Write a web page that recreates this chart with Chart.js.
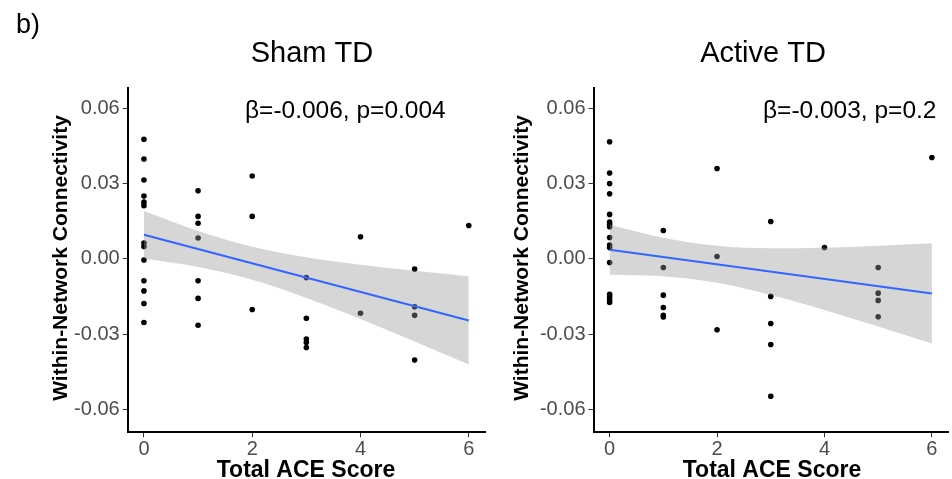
<!DOCTYPE html>
<html>
<head>
<meta charset="utf-8">
<script src="https://cdn.jsdelivr.net/npm/chart.js@4/dist/chart.umd.min.js"></script>
<style>
  body { margin: 0; background: #fff; width: 952px; height: 479px; overflow: hidden; position: relative; }
  canvas { position: absolute; top: 0; }
</style>
</head>
<body>
<canvas id="shamChart" width="490" height="479" style="left:0"></canvas>
<canvas id="activeChart" width="462" height="479" style="left:490px"></canvas>
<script>
// tick labels
const xTicks = [0, 2, 4, 6];
const yTicks = [-0.06, -0.03, 0, 0.03, 0.06];

// Sham TD: ACE score and connectivity per subject
const shamX = [0, 0, 0, 0, 0, 0, 0, 0, 0, 0, 0, 0, 0,
  1, 1, 1, 1, 1, 1, 1,
  2, 2, 2,
  3, 3, 3, 3, 3,
  4, 4,
  5, 5, 5, 5,
  6];
const shamY = [0.0477, 0.0398, 0.0314, 0.025, 0.0226, 0.0212, 0.0063, 0.0049, -0.0005, -0.0088, -0.0128, -0.0178, -0.0254,
  0.0271, 0.0169, 0.0142, 0.0083, -0.0088, -0.0158, -0.0265,
  0.033, 0.0169, -0.0202,
  -0.0075, -0.0237, -0.032, -0.0334, -0.0354,
  0.0088, -0.0217,
  -0.0041, -0.0191, -0.0225, -0.0404,
  0.0133];

// Active TD
const activeX = [0, 0, 0, 0, 0, 0, 0, 0, 0, 0, 0, 0, 0, 0, 0, 0,
  1, 1, 1, 1, 1, 1,
  2, 2, 2,
  3, 3, 3, 3, 3,
  4,
  5, 5, 5, 5,
  6];
const activeY = [0.0467, 0.0342, 0.03, 0.0259, 0.0177, 0.0147, 0.0138, 0.0128, 0.0085, 0.0055, 0.0045, -0.0015, -0.0142, -0.0152, -0.0164, -0.0174,
  0.0113, -0.0035, -0.0145, -0.0194, -0.0225, -0.0232,
  0.036, 0.0009, -0.0283,
  0.0149, -0.015, -0.0258, -0.0342, -0.0548,
  0.0045,
  -0.0035, -0.0137, -0.0166, -0.0231,
  0.0404];

// fitted line and 95% band, read at x = 0..6
const bandX = [0, 1, 2, 3, 4, 5, 6];
const shamFit = [0.0096, -0.0246];
const shamUpper = [0.0191, 0.0111, 0.0048, 0.0006, -0.0024, -0.0048, -0.0070];
const shamLower = [0.0001, -0.0033, -0.0084, -0.0156, -0.0240, -0.0330, -0.0422];
const activeFit = [0.0036, -0.0138];
const activeUpper = [0.0136, 0.0084, 0.0052, 0.0042, 0.0044, 0.0052, 0.0062];
const activeLower = [-0.0064, -0.0070, -0.0096, -0.0144, -0.0204, -0.0270, -0.0338];

const FONT = '"Liberation Sans", Arial, Helvetica, sans-serif';

function pairs(xs, ys) {
  return ys.map((y, i) => ({ x: xs[i], y: y }));
}

// draws panel title, stats text and axis titles
function textPlugin(items) {
  return {
    id: 'panelText',
    afterDraw(chart) {
      const ctx = chart.ctx;
      items.forEach(t => {
        ctx.save();
        ctx.fillStyle = '#000';
        ctx.font = t.font;
        ctx.textAlign = t.align || 'left';
        ctx.textBaseline = t.baseline || 'alphabetic';
        ctx.translate(t.x, t.y);
        if (t.rotate) ctx.rotate(-Math.PI / 2);
        ctx.fillText(t.text, 0, 0);
        ctx.restore();
      });
    }
  };
}

function makeChart(id, xs, ys, fit, upper, lower, yWidth, padRight, texts) {
  return new Chart(document.getElementById(id), {
    type: 'scatter',
    data: {
      datasets: [{
        label: 'points',
        data: pairs(xs, ys),
        backgroundColor: '#000',
        borderWidth: 0,
        pointRadius: 2.8,
        order: 3
      }, {
        type: 'line',
        label: 'upper',
        data: pairs(bandX, upper),
        showLine: true,
        borderColor: 'rgba(0,0,0,0)',
        backgroundColor: 'rgba(153,153,153,0.4)',
        fill: '+1',
        pointRadius: 0,
        cubicInterpolationMode: 'monotone',
        order: 2
      }, {
        type: 'line',
        label: 'lower',
        data: pairs(bandX, lower),
        showLine: true,
        borderColor: 'rgba(0,0,0,0)',
        fill: false,
        pointRadius: 0,
        cubicInterpolationMode: 'monotone',
        order: 2
      }, {
        type: 'line',
        label: 'fit',
        data: pairs([0, 6], fit),
        showLine: true,
        borderColor: '#3366FF',
        borderWidth: 2,
        fill: false,
        pointRadius: 0,
        order: 1
      }]
    },
    options: {
      responsive: false,
      animation: false,
      layout: { padding: { left: 0, top: 88.3, right: padRight, bottom: 0 } },
      plugins: { legend: { display: false }, tooltip: { enabled: false } },
      scales: {
        x: {
          type: 'linear',
          min: -0.3,
          max: 6.3,
          afterBuildTicks: s => { s.ticks = xTicks.map(v => ({ value: v })); },
          afterFit: s => { s.height = 46.7; },
          ticks: { color: '#4d4d4d', font: { size: 20, family: FONT }, padding: 0, maxRotation: 0 },
          grid: { drawOnChartArea: false, tickLength: 5, color: '#333', lineWidth: 1 },
          border: { color: '#000', width: 2 }
        },
        y: {
          type: 'linear',
          min: -0.0692,
          max: 0.068,
          afterBuildTicks: s => { s.ticks = yTicks.map(v => ({ value: v })); },
          afterFit: s => { s.width = yWidth; },
          ticks: {
            color: '#4d4d4d', font: { size: 20, family: FONT }, padding: 3,
            callback: v => v.toFixed(2)
          },
          grid: { drawOnChartArea: false, tickLength: 5, color: '#333', lineWidth: 1 },
          border: { color: '#000', width: 2 }
        }
      }
    },
    plugins: [textPlugin(texts)]
  });
}

makeChart('shamChart', shamX, shamY, shamFit, shamUpper, shamLower, 127.7, 5, [
  { text: 'b)', x: 16, y: 33, font: '27px ' + FONT },
  { text: 'Sham TD', x: 312, y: 61.7, align: 'center', font: '29px ' + FONT },
  { text: 'β=-0.006, p=0.004', x: 245, y: 118, font: '24.5px ' + FONT },
  { text: 'Within-Network Connectivity', x: 61, y: 258, align: 'center', baseline: 'middle', rotate: true, font: 'bold 21px ' + FONT },
  { text: 'Total ACE Score', x: 306, y: 476.5, align: 'center', font: 'bold 23px ' + FONT }
]);

makeChart('activeChart', activeX, activeY, activeFit, activeUpper, activeLower, 103.5, 2, [
  { text: 'Active TD', x: 273, y: 61.7, align: 'center', font: '29px ' + FONT },
  { text: 'β=-0.003, p=0.2', x: 273, y: 118, font: '24.5px ' + FONT },
  { text: 'Within-Network Connectivity', x: 32, y: 258, align: 'center', baseline: 'middle', rotate: true, font: 'bold 21px ' + FONT },
  { text: 'Total ACE Score', x: 282, y: 476.5, align: 'center', font: 'bold 23px ' + FONT }
]);
</script>
</body>
</html>
